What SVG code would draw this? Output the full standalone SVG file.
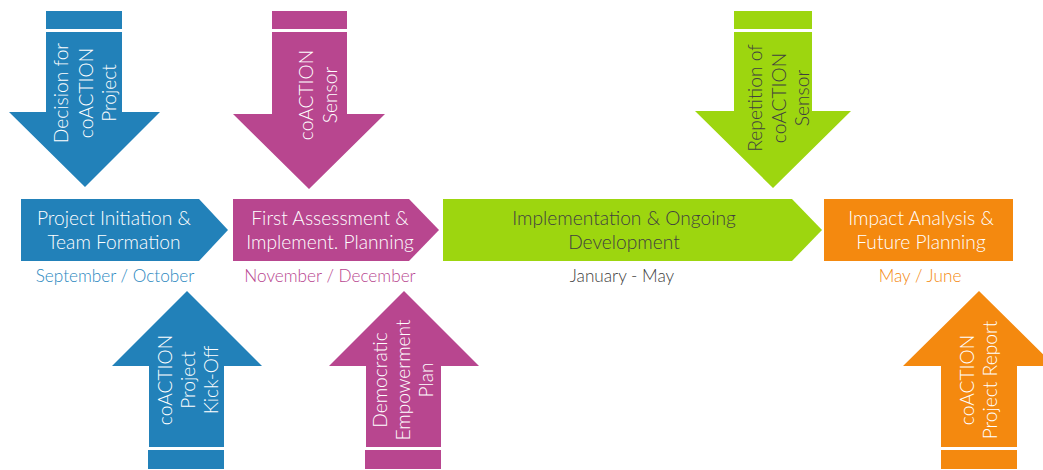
<svg xmlns="http://www.w3.org/2000/svg" width="1043" height="470" viewBox="0 0 1043 470">
<style>
.blue{fill:#2281b9}
.mag{fill:#b8468f}
.grn{fill:#9dd60f}
.org{fill:#f4890f}
text{font-family:Lato,"Open Sans","Liberation Sans",sans-serif;font-size:19.2px;font-weight:300;text-anchor:middle}
.w{fill:#ffffff}
.d{fill:#404040}
.date{font-size:17.2px}
.tb{fill:#2b88c0}
.tm{fill:#b8468f}
.tg{fill:#404040}
.to{fill:#f4890f}
</style>
<rect width="1043" height="470" fill="#ffffff"/>
<g id="connectors"/>
<g id="phase1">
<path class="blue" d="M21,199 H199 L228,230 L199,261 H21 Z"/>
<text class="w"><tspan x="114" y="225">Project Initiation &amp;</tspan><tspan x="114" y="249">Team Formation</tspan></text>
<text class="date tb" x="115" y="282">September / October</text>
</g>
<g id="phase2">
<path class="mag" d="M233,199 H409 L439,230 L409,261 H233 Z"/>
<text class="w"><tspan x="330" y="225">First Assessment &amp;</tspan><tspan x="330" y="249">Implement. Planning</tspan></text>
<text class="date tm" x="330" y="282">November / December</text>
</g>
<g id="phase3">
<path class="grn" d="M443,199 H792 L822,230 L792,261 H443 Z"/>
<text class="d"><tspan x="624" y="225">Implementation &amp; Ongoing</tspan><tspan x="624" y="249">Development</tspan></text>
<text class="date tg" x="622" y="282">January - May</text>
</g>
<g id="phase4">
<rect class="org" x="824" y="199" width="189" height="62"/>
<text class="w"><tspan x="921" y="225">Impact Analysis &amp;</tspan><tspan x="921" y="249">Future Planning</tspan></text>
<text class="date to" x="920" y="282">May / June</text>
</g>
<g id="decision">
<rect class="blue" x="46" y="11" width="76" height="18"/>
<path class="blue" d="M46,32 H122 V112 H160 L85,187 L9,112 H46 Z"/>
<text class="w" transform="translate(0,93) rotate(-90)"><tspan x="0" y="68">Decision for</tspan><tspan x="0" y="92.5">coACTION</tspan><tspan x="0" y="116">Project</tspan></text>
</g>
<g id="sensor">
<rect class="mag" x="272" y="11" width="75" height="18"/>
<path class="mag" d="M272,32 H347 V114 H385 L309,189 L233,114 H272 Z"/>
<text class="w" transform="translate(0,95) rotate(-90)"><tspan x="0" y="313">coACTION</tspan><tspan x="0" y="337">Sensor</tspan></text>
</g>
<g id="repetition">
<rect class="grn" x="734" y="11" width="78" height="18"/>
<path class="grn" d="M734,32 H812 V111 H851 L773,188 L695,111 H734 Z"/>
<text class="d" transform="translate(0,98) rotate(-90)"><tspan x="0" y="762">Repetition of</tspan><tspan x="0" y="786">coACTION</tspan><tspan x="0" y="809">Sensor</tspan></text>
</g>
<g id="kickoff">
<path class="blue" d="M187,291 L262,366 H224 V447 H149 V366 H112 Z"/>
<rect class="blue" x="148" y="450" width="76" height="19"/>
<text class="w" transform="translate(0,380) rotate(-90)"><tspan x="0" y="172">coACTION</tspan><tspan x="0" y="195">Project</tspan><tspan x="0" y="218">Kick-Off</tspan></text>
</g>
<g id="empowerment">
<path class="mag" d="M404,291 L479,366 H441 V447 H366 V366 H329 Z"/>
<rect class="mag" x="365" y="450" width="76" height="19"/>
<text class="w" transform="translate(0,380) rotate(-90)"><tspan x="0" y="387">Democratic</tspan><tspan x="0" y="410">Empowerment</tspan><tspan x="0" y="433">Plan</tspan></text>
</g>
<g id="report">
<path class="org" d="M979,291 L1055,366 H1017 V447 H941 V366 H903 Z"/>
<rect class="org" x="941" y="450" width="76" height="19"/>
<text class="w" transform="translate(0,380) rotate(-90)"><tspan x="0" y="974">coACTION</tspan><tspan x="0" y="997">Project Report</tspan></text>
</g>
</svg>
